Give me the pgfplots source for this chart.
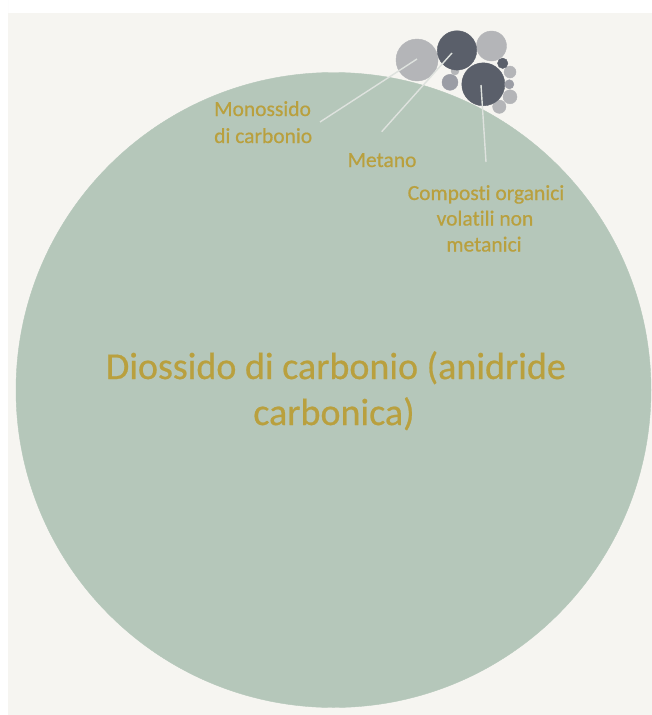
\documentclass[border=0pt]{standalone}
\usepackage{fontspec}
\setmainfont{Carlito}[Ligatures=NoCommon, FakeBold=0.6]
\usepackage{pgfplots}
\pgfplotsset{compat=1.18}
\usepackage{pgfplotstable}

\definecolor{panel}{RGB}{246,245,241}
\definecolor{sage}{RGB}{181,199,186}
\definecolor{lgray}{RGB}{180,181,184}
\definecolor{dgray}{RGB}{90,95,106}
\definecolor{mgray}{RGB}{155,157,165}
\definecolor{gold}{RGB}{185,160,62}
\definecolor{leader}{RGB}{222,226,222}

% bubbles: centre x, centre y (pixels, y down), radius
\pgfplotstableread{
x     y      r
333.5 390.0  317.5
}\co

\pgfplotstableread{
x     y      r
417.0 60.0   21.0
491.5 46.0   15.0
510.0 72.0   6.0
510.0 96.8   7.0
499.3 106.7  6.7
455.0 71.0   4.0
}\light

\pgfplotstableread{
x     y      r
457.0 50.4   19.7
483.3 84.3   21.5
502.7 63.3   5.2
}\dark

\pgfplotstableread{
x     y      r
450.0 82.3   8.0
509.3 84.3   4.6
}\mid

\newcommand{\smallfont}{\fontsize{21.5}{26}\selectfont}
\newcommand{\bigfont}{\fontsize{38}{46}\selectfont}

\pgfplotsset{
  bubble/.style={
    scatter, only marks, mark=*,
    visualization depends on={\thisrow{r} \as \rad},
    scatter/@pre marker code/.code={\scope[mark size=\rad, draw=#1, fill=#1]},
    scatter/@post marker code/.code={\endscope},
  },
}

\begin{document}
\begin{tikzpicture}
\begin{axis}[
    width=652pt, height=715pt, scale only axis,
    xmin=0, xmax=652, ymin=0, ymax=715,
    y dir=reverse,
    hide axis, clip=false, clip mode=individual,
]
% page and panel
\addplot[draw=none, fill=white] coordinates {(0,0) (652,0) (652,715) (0,715)} \closedcycle;
\addplot[draw=none, fill=panel] coordinates {(8,13) (652,13) (652,715) (8,715)} \closedcycle;

\addplot[bubble=sage] table {\co};
\addplot[bubble=lgray] table {\light};
\addplot[bubble=dgray] table {\dark};
\addplot[bubble=mgray] table {\mid};

% leader lines
\addplot[leader, line width=1.4pt, mark=none] coordinates {(417,59) (320,122)};
\addplot[leader, line width=1.4pt, mark=none] coordinates {(452,53) (381.7,131.7)};
\addplot[leader, line width=1.4pt, mark=none] coordinates {(481,85) (486,162)};

% labels
\node[anchor=base west, text=gold, font=\smallfont, inner sep=0] at (axis cs:214,116) {Monossido};
\node[anchor=base west, text=gold, font=\smallfont, inner sep=0] at (axis cs:214,143) {di carbonio};
\node[anchor=base, text=gold, font=\smallfont, inner sep=0] at (axis cs:382,167) {Metano};
\node[anchor=base, text=gold, font=\smallfont, inner sep=0] at (axis cs:486,200) {Composti organici};
\node[anchor=base, text=gold, font=\smallfont, inner sep=0] at (axis cs:485,225.5) {volatili non};
\node[anchor=base, text=gold, font=\smallfont, inner sep=0] at (axis cs:484,251.5) {metanici};
\node[anchor=base, text=gold, font=\bigfont, inner sep=0] at (axis cs:336,379) {Diossido di carbonio (anidride};
\node[anchor=base, text=gold, font=\bigfont, inner sep=0] at (axis cs:334,425) {carbonica)};
\end{axis}
\end{tikzpicture}
\end{document}
